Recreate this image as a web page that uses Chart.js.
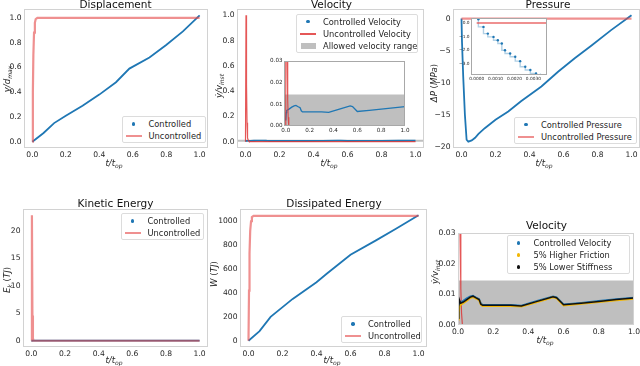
<!DOCTYPE html>
<html><head><meta charset="utf-8">
<script src="https://cdn.jsdelivr.net/npm/chart.js@4.4.0/dist/chart.umd.min.js"></script>
<style>
html,body{margin:0;padding:0;background:#fff}
body{width:640px;height:366px;position:relative;overflow:hidden;font-family:'DejaVu Sans',sans-serif;color:#262626}
canvas{position:absolute}
.ttl{position:absolute;font-size:10.5px;line-height:1;white-space:nowrap;transform:translate(-50%,-50%);color:#111}
.xl{position:absolute;font-size:8.6px;line-height:1;font-style:italic;white-space:nowrap;transform:translate(-50%,-50%)}
.yl{position:absolute;font-size:8.6px;line-height:1;font-style:italic;white-space:nowrap;transform:translate(-50%,-50%) rotate(-90deg)}
.yl span,.xl span{font-style:normal}
sub{font-size:70%;vertical-align:-0.3em;line-height:0}
.lg{position:absolute;background:#fff;border:1px solid #dcdcdc;border-radius:2px;box-sizing:border-box}
.mk{position:absolute}
.lr{position:absolute;font-size:8.3px;line-height:1;white-space:nowrap;transform:translateY(-50%);color:#262626}
</style>
</head><body>
<script>
// ---------------- data ----------------
const xTicks = [0, 0.2, 0.4, 0.6, 0.8, 1.0];
const dispTicks = [0, 0.2, 0.4, 0.6, 0.8, 1.0];
const velTicks = [0, 0.2, 0.4, 0.6, 0.8, 1.0];
const presTicks = [-20, -15, -10, -5, 0];
const kinTicks = [0, 5, 10, 15, 20];
const dissTicks = [0, 200, 400, 600, 800, 1000];
const velZoomTicks = [0, 0.01, 0.02, 0.03];
const presInsetXTicks = [0, 0.001, 0.002, 0.003];
const presInsetYTicks = [-3, -2, -1, 0];

// Displacement
const dispT    = [0, 0.067, 0.13, 0.2, 0.3, 0.4, 0.5, 0.58, 0.7, 0.8, 0.9, 1.0];
const dispCtrl = [0, 0.07, 0.15, 0.21, 0.29, 0.38, 0.48, 0.59, 0.68, 0.78, 0.89, 1.02];
const dispUT   = [0, 0.003, 0.006, 0.01, 0.015, 0.02, 0.03, 1.0];
const dispUnc  = [0, 0.4, 0.7, 0.88, 0.96, 0.99, 1.0, 1.0];

// Velocity
const velUT    = [0, 0.003, 0.006, 0.009, 0.012, 0.016, 0.02, 0.025, 1.0];
const velUnc   = [0, 1.0, 0.45, 0.15, 0.03, 0.012, 0.004, 0, 0];
const velT     = [0, 0.004, 0.008, 0.015, 0.03, 0.05, 0.07, 0.085, 0.1, 0.12, 0.13, 0.14, 0.2, 0.3, 0.36, 0.45, 0.54, 0.56, 0.6, 0.7, 0.8, 0.9, 1.0];
const velCtrl  = [0.0025, 0.0062, 0.0072, 0.0074, 0.0079, 0.0087, 0.0093, 0.0095, 0.0090, 0.0084, 0.0070, 0.0065, 0.0065, 0.0065, 0.0063, 0.0078, 0.0093, 0.0090, 0.0067, 0.0072, 0.0078, 0.0084, 0.0089];
const velFric  = [0.0018, 0.0040, 0.0058, 0.0066, 0.0071, 0.0079, 0.0088, 0.0091, 0.0087, 0.0081, 0.0066, 0.0062, 0.0062, 0.0062, 0.0060, 0.0075, 0.0090, 0.0087, 0.0064, 0.0069, 0.0075, 0.0081, 0.0086];
const velStiff = [0.0022, 0.0060, 0.0082, 0.0071, 0.0075, 0.0083, 0.0091, 0.0094, 0.0089, 0.0083, 0.0068, 0.0064, 0.0064, 0.0064, 0.0062, 0.0077, 0.0092, 0.0089, 0.0066, 0.0071, 0.0077, 0.0083, 0.0088];
const allowedVel = 0.0145;

// Pressure
const presT    = [0, 0.003, 0.01, 0.02, 0.03, 0.04, 0.06, 0.08, 0.1, 0.137, 0.2, 0.275, 0.35, 0.47, 0.568, 0.666, 0.765, 0.88, 1.0];
const presCtrl = [0, -3.7, -9, -15, -18.9, -19.2, -19.0, -18.6, -18.0, -17.1, -15.8, -14.5, -12.9, -10.6, -8.3, -6.2, -4.2, -1.8, 0.5];
const presUT   = [0, 1.0];
const presUnc  = [0, 0];
const presInT  = [0.00009, 0.00036, 0.00059, 0.00089, 0.00112, 0.00133, 0.0015, 0.00177, 0.00204, 0.0023, 0.00257, 0.00284, 0.00314, 0.00337];
const presIn   = [0.27, -0.29, -0.78, -1.02, -1.26, -1.5, -1.99, -2.23, -2.47, -2.79, -3.2, -3.44, -3.69, -3.8];

// Kinetic energy
const kinUT   = [0, 0.003, 0.006, 0.009, 0.012, 0.02, 1.0];
const kinUnc  = [0, 22.8, 4.6, 0.5, 0.02, 0, 0];
const kinT    = [0, 0.01, 0.5, 1.0];
const kinCtrl = [0.0001, 0.0013, 0.0009, 0.0018];

// Dissipated energy
const wT    = [0, 0.065, 0.13, 0.26, 0.4, 0.46, 0.6, 0.75, 0.87, 1.0];
const wCtrl = [0, 80, 200, 350, 490, 560, 720, 840, 940, 1050];
const wUT   = [0, 0.003, 0.006, 0.01, 0.015, 0.02, 0.03, 1.0];
const wUnc  = [0, 420, 730, 920, 1000, 1035, 1045, 1045];

// ---------------- styling ----------------
const FONT = 'DejaVu Sans';
const TICK_COLOR = '#262626';
const BLUE = '#1f77b4';
const RED_THICK = 'rgba(228,70,70,0.6)';
const RED_THIN = 'rgba(222,45,45,0.8)';
const GRAY_BAND = 'rgba(128,128,128,0.5)';
const GOLD = '#f2b705';
const BLACK = '#111111';

function fmt(v, d) {
  if (Math.abs(v) < 1e-12) v = 0;
  return v.toFixed(d).replace('-', '\u2212');
}
function pts(xs, ys) { return xs.map((x, i) => ({x: x, y: ys[i]})); }
function line(xs, ys, color, width, extra) {
  return Object.assign({data: pts(xs, ys), showLine: true, borderColor: color, backgroundColor: color,
    borderWidth: width, pointRadius: 0, fill: false, tension: 0}, extra || {});
}
function band(xMin, xMax, top) {
  return {data: [{x: xMin, y: top}, {x: xMax, y: top}], showLine: true, borderWidth: 0,
    borderColor: 'rgba(0,0,0,0)', backgroundColor: GRAY_BAND, pointRadius: 0, fill: 'origin'};
}
function framePlugin(color, white) {
  return {
    id: 'frame',
    beforeDatasetsDraw(chart) {
      if (!white) return;
      const a = chart.chartArea, ctx = chart.ctx;
      ctx.save(); ctx.fillStyle = '#fff';
      ctx.fillRect(a.left, a.top, a.right - a.left, a.bottom - a.top);
      ctx.restore();
    },
    afterDatasetsDraw(chart) {
      const a = chart.chartArea, ctx = chart.ctx;
      ctx.save(); ctx.strokeStyle = color; ctx.lineWidth = 1;
      ctx.strokeRect(a.left + 0.5, a.top + 0.5, a.right - a.left - 1, a.bottom - a.top - 1);
      ctx.restore();
    }
  };
}
function makeChart(cfg) {
  const {L, T, R, B} = cfg.area;
  const padL = cfg.padL, padB = cfg.padB, padT = 6, padR = 14;
  const c = document.createElement('canvas');
  c.width = R - L + padL + padR; c.height = B - T + padT + padB;
  c.style.left = (L - padL) + 'px'; c.style.top = (T - padT) + 'px';
  document.body.appendChild(c);
  const tf = {family: FONT, size: cfg.tickSize};
  new Chart(c, {
    type: 'scatter',
    data: {datasets: cfg.datasets},
    options: {
      responsive: false, animation: false, devicePixelRatio: 1,
      layout: {padding: {left: 0, top: padT, right: padR, bottom: 0}},
      plugins: {legend: {display: false}, tooltip: {enabled: false}},
      scales: {
        x: {type: 'linear', min: cfg.x.min, max: cfg.x.max,
          grid: {display: false, drawTicks: false}, border: {display: false},
          afterBuildTicks: s => { s.ticks = cfg.x.ticks.map(v => ({value: v})); },
          afterFit: s => { s.height = padB; s.paddingLeft = 0; s.paddingRight = 0; },
          ticks: {font: tf, color: TICK_COLOR, padding: cfg.tickPad, maxRotation: 0, autoSkip: false,
            callback: v => fmt(v, cfg.x.dec)}},
        y: {type: 'linear', min: cfg.y.min, max: cfg.y.max,
          grid: {display: false, drawTicks: false}, border: {display: false},
          afterBuildTicks: s => { s.ticks = cfg.y.ticks.map(v => ({value: v})); },
          afterFit: s => { s.width = padL; s.paddingTop = 0; s.paddingBottom = 0; },
          ticks: {font: tf, color: TICK_COLOR, padding: cfg.tickPad, autoSkip: false,
            callback: v => fmt(v, cfg.y.dec)}}
      }
    },
    plugins: [framePlugin(cfg.frameColor, cfg.white)]
  });
}
function txt(cls, x, y, html) {
  const d = document.createElement('div');
  d.className = cls; d.style.left = x + 'px'; d.style.top = y + 'px'; d.innerHTML = html;
  document.body.appendChild(d);
}
function legend(x, y, w, items) {
  const box = document.createElement('div');
  box.className = 'lg';
  box.style.left = x + 'px'; box.style.top = y + 'px';
  box.style.width = w + 'px'; box.style.height = (12 * items.length + 3) + 'px';
  items.forEach((it, i) => {
    const cy = 7 + 12 * i;
    const m = document.createElement('div');
    m.className = 'mk';
    if (it.kind === 'dot') {
      m.style.cssText = 'left:9.3px;top:' + (cy - 1.7) + 'px;width:3.4px;height:3.4px;border-radius:50%;background:' + it.color;
    } else if (it.kind === 'line') {
      m.style.cssText = 'left:3px;top:' + (cy - 1) + 'px;width:16px;height:2px;background:' + it.color;
    } else {
      m.style.cssText = 'left:3.5px;top:' + (cy - 3) + 'px;width:15px;height:6px;background:' + it.color;
    }
    box.appendChild(m);
    const t = document.createElement('div');
    t.className = 'lr'; t.style.left = '26px'; t.style.top = cy + 'px'; t.textContent = it.label;
    box.appendChild(t);
  });
  document.body.appendChild(box);
}

const TS = 7.6, MAIN_FRAME = '#d2d2d2', INSET_FRAME = '#a8a8a8';

// Panel 1: Displacement
makeChart({area: {L: 24, T: 9, R: 208, B: 148}, padL: 30, padB: 14, tickSize: TS, tickPad: 2.5,
  frameColor: MAIN_FRAME, white: false,
  x: {min: -0.05, max: 1.05, ticks: xTicks, dec: 1},
  y: {min: -0.051, max: 1.071, ticks: dispTicks, dec: 1},
  datasets: [line(dispUT, dispUnc, RED_THICK, 2.2), line(dispT, dispCtrl, BLUE, 1.8)]});

// Panel 2: Velocity
makeChart({area: {L: 237, T: 9, R: 424, B: 148}, padL: 30, padB: 14, tickSize: TS, tickPad: 2.5,
  frameColor: MAIN_FRAME, white: false,
  x: {min: -0.05, max: 1.05, ticks: xTicks, dec: 1},
  y: {min: -0.05, max: 1.05, ticks: velTicks, dec: 1},
  datasets: [line(velUT, velUnc, RED_THIN, 1.2), line(velT, velCtrl, BLUE, 1.6), band(-0.05, 1.05, allowedVel)]});

// Panel 3: Pressure
makeChart({area: {L: 453, T: 9, R: 640, B: 148}, padL: 30, padB: 14, tickSize: TS, tickPad: 2.5,
  frameColor: MAIN_FRAME, white: false,
  x: {min: -0.05, max: 1.05, ticks: xTicks, dec: 1},
  y: {min: -20.19, max: 1.49, ticks: presTicks, dec: 0},
  datasets: [line(presUT, presUnc, RED_THICK, 2.2), line(presT, presCtrl, BLUE, 1.8)]});

// Panel 4: Kinetic energy
makeChart({area: {L: 23, T: 209, R: 208, B: 347}, padL: 30, padB: 14, tickSize: TS, tickPad: 2.5,
  frameColor: MAIN_FRAME, white: false,
  x: {min: -0.05, max: 1.05, ticks: xTicks, dec: 1},
  y: {min: -1.14, max: 23.94, ticks: kinTicks, dec: 0},
  datasets: [line(kinUT, kinUnc, RED_THICK, 2.2), line(kinT, kinCtrl, BLUE, 1.8)]});

// Panel 5: Dissipated energy
makeChart({area: {L: 240, T: 209, R: 427, B: 347}, padL: 30, padB: 14, tickSize: TS, tickPad: 2.5,
  frameColor: MAIN_FRAME, white: false,
  x: {min: -0.05, max: 1.05, ticks: xTicks, dec: 1},
  y: {min: -52.5, max: 1102.5, ticks: dissTicks, dec: 0},
  datasets: [line(wUT, wUnc, RED_THICK, 2.2), line(wT, wCtrl, BLUE, 1.8)]});

// Panel 6: Velocity (variants)
makeChart({area: {L: 458, T: 233, R: 634, B: 325}, padL: 30, padB: 14, tickSize: TS, tickPad: 2.5,
  frameColor: MAIN_FRAME, white: false,
  x: {min: 0, max: 1, ticks: xTicks, dec: 1},
  y: {min: 0, max: 0.03, ticks: velZoomTicks, dec: 2},
  datasets: [line(velT, velStiff, BLACK, 1.5), line(velT, velFric, GOLD, 2), line(velT, velCtrl, BLUE, 2),
    line(velUT, velUnc, RED_THIN, 1.2), band(0, 1, allowedVel)]});

// Inset: velocity zoom
makeChart({area: {L: 284, T: 61, R: 405, B: 126}, padL: 18, padB: 9, tickSize: 5.6, tickPad: 1.5,
  frameColor: INSET_FRAME, white: true,
  x: {min: -0.015, max: 1.0, ticks: xTicks, dec: 1},
  y: {min: 0, max: 0.03, ticks: velZoomTicks, dec: 2},
  datasets: [line(velUT, velUnc, RED_THIN, 1.2), line(velT, velCtrl, BLUE, 1.3), band(-0.015, 1.0, allowedVel)]});

// Inset: pressure zoom
makeChart({area: {L: 471, T: 18, R: 547, B: 75}, padL: 14, padB: 8, tickSize: 4.3, tickPad: 1.5,
  frameColor: INSET_FRAME, white: true,
  x: {min: -0.0003, max: 0.00372, ticks: presInsetXTicks, dec: 4},
  y: {min: -3.8, max: 0.36, ticks: presInsetYTicks, dec: 1},
  datasets: [line(presUT, presUnc, RED_THICK, 2),
    line(presInT, presIn, 'rgba(31,119,180,0.35)', 1.4, {stepped: 'after', pointRadius: 1.2,
      pointBackgroundColor: BLUE, pointBorderColor: BLUE, pointBorderWidth: 0})]});

// ---------------- text ----------------
const XLAB = '<i>t</i>/<i>t</i><sub><i>op</i></sub>';
txt('ttl', 115.5, 3.8, 'Displacement');
txt('ttl', 331.5, 3.8, 'Velocity');
txt('ttl', 548, 3.8, 'Pressure');
txt('ttl', 115.5, 202.5, 'Kinetic Energy');
txt('ttl', 334, 202.5, 'Dissipated Energy');
txt('ttl', 546.5, 224.8, 'Velocity');

txt('xl', 114, 162.5, XLAB);
txt('xl', 329, 162.5, XLAB);
txt('xl', 544, 162.5, XLAB);
txt('xl', 114, 359.5, XLAB);
txt('xl', 332, 359.5, XLAB);
txt('xl', 545, 339.5, XLAB);

txt('yl', 6.5, 79, '<i>y</i>/<i>d</i><sub><i>max</i></sub>');
txt('yl', 218.5, 86, '<i>\u1E8F</i>/<i>v</i><sub><i>inst</i></sub>');
txt('yl', 433.5, 83, '<i>\u0394P</i> <span>(</span><i>MPa</i><span>)</span>');
txt('yl', 6.7, 280, '<i>E</i><sub><i>k</i></sub> <span>(</span><i>TJ</i><span>)</span>');
txt('yl', 214, 274, '<i>W</i> <span>(</span><i>TJ</i><span>)</span>');
txt('yl', 435, 272, '<i>\u1E8F</i>/<i>v</i><sub><i>inst</i></sub>');

// ---------------- legends ----------------
legend(121.5, 116, 84, [{kind: 'dot', color: BLUE, label: 'Controlled'}, {kind: 'line', color: RED_THICK, label: 'Uncontrolled'}]);
legend(296, 13.5, 122, [{kind: 'dot', color: BLUE, label: 'Controlled Velocity'}, {kind: 'line', color: RED_THIN, label: 'Uncontrolled Velocity'}, {kind: 'patch', color: GRAY_BAND, label: 'Allowed velocity range'}]);
legend(514, 116.5, 123, [{kind: 'dot', color: BLUE, label: 'Controlled Pressure'}, {kind: 'line', color: RED_THICK, label: 'Uncontrolled Pressure'}]);
legend(120.5, 213, 83, [{kind: 'dot', color: BLUE, label: 'Controlled'}, {kind: 'line', color: RED_THICK, label: 'Uncontrolled'}]);
legend(341, 316, 81, [{kind: 'dot', color: BLUE, label: 'Controlled'}, {kind: 'line', color: RED_THICK, label: 'Uncontrolled'}]);
legend(506.5, 235, 123.5, [{kind: 'dot', color: BLUE, label: 'Controlled Velocity'}, {kind: 'dot', color: GOLD, label: '5% Higher Friction'}, {kind: 'dot', color: BLACK, label: '5% Lower Stiffness'}]);
</script>
</body></html>
